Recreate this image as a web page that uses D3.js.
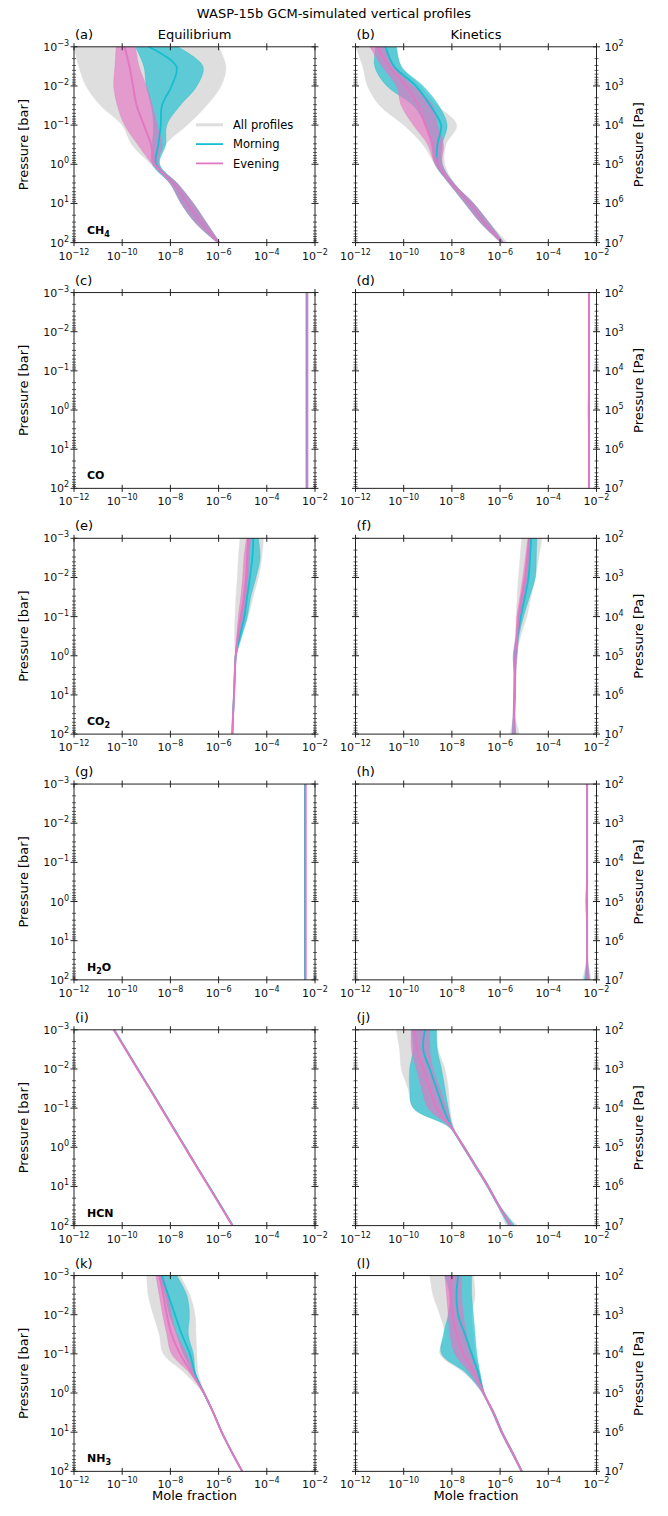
<!DOCTYPE html>
<html>
<head>
<meta charset="utf-8">
<script src="https://cdn.jsdelivr.net/npm/d3@7"></script>
<style>
  body { margin: 0; background: #fff; }
  svg { font-family: "DejaVu Sans", sans-serif; }
</style>
</head>
<body>
<svg id="fig" width="668" height="1516"></svg>
<script>
(function () {

  // log10(P / bar) of the sampled levels
  const logP = [-3, -2.5, -2, -1.5, -1, -0.5, 0, 0.5, 1, 1.5, 2];

  // every profile below is log10(mole fraction), one value per level of logP
  const ch4Eq = {
    allLo:   [-12, -11.8, -11.5, -10.9, -10.0, -9.6, -8.8, -8.02, -7.57, -6.97, -6.07],
    allHi:   [-6.0, -5.7, -5.9, -6.5, -7.3, -8.2, -8.45, -7.68, -7.03, -6.48, -5.95],
    mornLo:  [-9.45, -9.1, -9.0, -8.8, -8.7, -8.75, -8.75, -8.0, -7.55, -6.95, -6.05],
    mornHi:  [-7.7, -6.65, -6.9, -7.6, -8.15, -8.2, -8.45, -7.7, -7.05, -6.5, -5.95],
    mornMid: [-8.9, -7.75, -7.95, -8.35, -8.4, -8.5, -8.6, -7.85, -7.3, -6.7, -6.0],
    eveLo:   [-10.25, -10.3, -10.35, -10.2, -9.9, -9.35, -8.75, -8.0, -7.55, -6.95, -6.05],
    eveHi:   [-9.45, -9.3, -9.0, -8.75, -8.55, -8.35, -8.5, -7.7, -7.05, -6.5, -5.95],
    eveMid:  [-9.9, -9.7, -9.55, -9.4, -9.1, -8.8, -8.65, -7.85, -7.3, -6.7, -6.0]
  };
  const ch4Kin = {
    allLo:   [-12, -11.7, -11.5, -11.0, -10.0, -9.2, -8.7, -8.12, -7.47, -6.82, -6.0],
    allHi:   [-10.3, -10.1, -9.3, -8.6, -7.8, -8.25, -8.3, -7.88, -7.08, -6.43, -5.7],
    mornLo:  [-11.15, -11.2, -10.7, -9.6, -9.1, -8.85, -8.7, -8.1, -7.45, -6.8, -5.95],
    mornHi:  [-10.3, -10.1, -9.2, -8.55, -8.2, -8.4, -8.4, -7.9, -7.1, -6.45, -5.85],
    mornMid: [-10.75, -10.4, -9.5, -8.9, -8.45, -8.6, -8.6, -8.0, -7.25, -6.65, -5.9],
    eveLo:   [-11.4, -10.9, -10.3, -10.1, -9.6, -9.0, -8.7, -8.1, -7.45, -6.8, -5.95],
    eveHi:   [-10.8, -10.4, -9.6, -8.8, -8.6, -8.35, -8.4, -7.9, -7.1, -6.45, -5.85],
    eveMid:  [-11.1, -10.6, -9.9, -9.4, -9.1, -8.8, -8.6, -8.0, -7.25, -6.65, -5.9]
  };
  const coEq = {
    allLo:   [-2.36, -2.36, -2.36, -2.36, -2.36, -2.36, -2.36, -2.36, -2.36, -2.36, -2.36],
    allHi:   [-2.30, -2.30, -2.30, -2.30, -2.30, -2.30, -2.30, -2.30, -2.30, -2.30, -2.30],
    mornLo:  [-2.36, -2.36, -2.36, -2.36, -2.36, -2.36, -2.36, -2.36, -2.36, -2.36, -2.36],
    mornHi:  [-2.34, -2.34, -2.34, -2.34, -2.34, -2.34, -2.34, -2.34, -2.34, -2.34, -2.34],
    mornMid: [-2.35, -2.35, -2.35, -2.35, -2.35, -2.35, -2.35, -2.35, -2.35, -2.35, -2.35],
    eveLo:   [-2.33, -2.33, -2.33, -2.33, -2.33, -2.33, -2.33, -2.33, -2.33, -2.33, -2.33],
    eveHi:   [-2.31, -2.31, -2.31, -2.31, -2.31, -2.31, -2.31, -2.31, -2.31, -2.31, -2.31],
    eveMid:  [-2.32, -2.32, -2.32, -2.32, -2.32, -2.32, -2.32, -2.32, -2.32, -2.32, -2.32]
  };
  const coKin = {
    allLo:   [-2.33, -2.33, -2.33, -2.33, -2.33, -2.34, -2.38, -2.34, -2.33, -2.33, -2.34],
    allHi:   [-2.29, -2.29, -2.29, -2.29, -2.29, -2.29, -2.29, -2.29, -2.29, -2.29, -2.29],
    mornLo:  [-2.32, -2.32, -2.32, -2.32, -2.32, -2.32, -2.33, -2.32, -2.32, -2.32, -2.32],
    mornHi:  [-2.30, -2.30, -2.30, -2.30, -2.30, -2.30, -2.30, -2.30, -2.30, -2.30, -2.30],
    mornMid: [-2.31, -2.31, -2.31, -2.31, -2.31, -2.31, -2.31, -2.31, -2.31, -2.31, -2.31],
    eveLo:   [-2.32, -2.32, -2.32, -2.32, -2.32, -2.32, -2.33, -2.32, -2.32, -2.32, -2.32],
    eveHi:   [-2.30, -2.30, -2.30, -2.30, -2.30, -2.30, -2.30, -2.30, -2.30, -2.30, -2.30],
    eveMid:  [-2.31, -2.31, -2.31, -2.31, -2.31, -2.31, -2.31, -2.31, -2.31, -2.31, -2.31]
  };
  const co2Eq = {
    allLo:   [-5.11, -5.18, -5.22, -5.28, -5.32, -5.34, -5.32, -5.35, -5.38, -5.41, -5.45],
    allHi:   [-4.14, -4.21, -4.35, -4.57, -4.77, -5.04, -5.26, -5.31, -5.34, -5.37, -5.41],
    mornLo:  [-4.77, -4.81, -4.86, -4.97, -5.08, -5.2, -5.3, -5.34, -5.37, -5.41, -5.44],
    mornHi:  [-4.35, -4.28, -4.45, -4.67, -4.81, -5.04, -5.27, -5.32, -5.35, -5.39, -5.42],
    mornMid: [-4.56, -4.6, -4.7, -4.82, -4.93, -5.12, -5.29, -5.33, -5.36, -5.4, -5.43],
    eveLo:   [-4.84, -4.95, -5.0, -5.08, -5.18, -5.25, -5.31, -5.34, -5.37, -5.41, -5.44],
    eveHi:   [-4.67, -4.72, -4.77, -4.86, -4.97, -5.14, -5.27, -5.32, -5.35, -5.39, -5.42],
    eveMid:  [-4.77, -4.82, -4.86, -4.95, -5.08, -5.2, -5.29, -5.33, -5.36, -5.4, -5.43]
  };
  const co2Kin = {
    allLo:   [-5.1, -5.17, -5.24, -5.29, -5.33, -5.36, -5.45, -5.42, -5.43, -5.45, -5.58],
    allHi:   [-4.26, -4.4, -4.54, -4.72, -4.89, -5.15, -5.3, -5.33, -5.36, -5.38, -5.2],
    mornLo:  [-4.75, -4.86, -4.96, -5.13, -5.24, -5.32, -5.45, -5.42, -5.43, -5.46, -5.5],
    mornHi:  [-4.47, -4.5, -4.54, -4.78, -5.03, -5.22, -5.3, -5.36, -5.37, -5.39, -5.35],
    mornMid: [-4.71, -4.76, -4.82, -4.97, -5.14, -5.28, -5.37, -5.39, -5.4, -5.42, -5.44],
    eveLo:   [-4.85, -4.95, -5.06, -5.18, -5.31, -5.35, -5.45, -5.42, -5.43, -5.46, -5.5],
    eveHi:   [-4.72, -4.79, -4.86, -5.0, -5.14, -5.25, -5.3, -5.36, -5.37, -5.39, -5.35],
    eveMid:  [-4.79, -4.87, -4.96, -5.1, -5.22, -5.3, -5.37, -5.39, -5.4, -5.42, -5.44]
  };
  const h2oEq = {
    allLo:   [-2.43, -2.43, -2.43, -2.43, -2.43, -2.43, -2.43, -2.43, -2.43, -2.43, -2.43],
    allHi:   [-2.37, -2.37, -2.37, -2.37, -2.37, -2.37, -2.37, -2.37, -2.37, -2.37, -2.37],
    mornLo:  [-2.43, -2.43, -2.43, -2.43, -2.43, -2.43, -2.43, -2.43, -2.43, -2.43, -2.43],
    mornHi:  [-2.41, -2.41, -2.41, -2.41, -2.41, -2.41, -2.41, -2.41, -2.41, -2.41, -2.41],
    mornMid: [-2.42, -2.42, -2.42, -2.42, -2.42, -2.42, -2.42, -2.42, -2.42, -2.42, -2.42],
    eveLo:   [-2.40, -2.40, -2.40, -2.40, -2.40, -2.40, -2.40, -2.40, -2.40, -2.40, -2.40],
    eveHi:   [-2.38, -2.38, -2.38, -2.38, -2.38, -2.38, -2.38, -2.38, -2.38, -2.38, -2.38],
    eveMid:  [-2.39, -2.39, -2.39, -2.39, -2.39, -2.39, -2.39, -2.39, -2.39, -2.39, -2.39]
  };
  const h2oKin = {
    allLo:   [-2.41, -2.41, -2.41, -2.41, -2.41, -2.42, -2.46, -2.42, -2.41, -2.42, -2.58],
    allHi:   [-2.37, -2.37, -2.37, -2.37, -2.37, -2.37, -2.37, -2.37, -2.37, -2.36, -2.22],
    mornLo:  [-2.40, -2.40, -2.40, -2.40, -2.40, -2.41, -2.44, -2.41, -2.40, -2.41, -2.50],
    mornHi:  [-2.38, -2.38, -2.38, -2.38, -2.38, -2.38, -2.38, -2.38, -2.38, -2.37, -2.28],
    mornMid: [-2.39, -2.39, -2.39, -2.39, -2.39, -2.39, -2.40, -2.39, -2.39, -2.39, -2.40],
    eveLo:   [-2.40, -2.40, -2.40, -2.40, -2.40, -2.41, -2.43, -2.41, -2.40, -2.41, -2.46],
    eveHi:   [-2.38, -2.38, -2.38, -2.38, -2.38, -2.38, -2.38, -2.38, -2.38, -2.37, -2.30],
    eveMid:  [-2.39, -2.39, -2.39, -2.39, -2.39, -2.39, -2.40, -2.39, -2.39, -2.39, -2.38]
  };
  const hcnEq = {
    allLo:   [-10.37, -9.88, -9.39, -8.89, -8.40, -7.91, -7.42, -6.93, -6.43, -5.94, -5.45],
    allHi:   [-10.31, -9.82, -9.33, -8.83, -8.34, -7.85, -7.36, -6.87, -6.37, -5.88, -5.39],
    mornLo:  [-10.35, -9.86, -9.37, -8.87, -8.38, -7.89, -7.40, -6.91, -6.41, -5.92, -5.43],
    mornHi:  [-10.32, -9.83, -9.34, -8.84, -8.35, -7.86, -7.37, -6.88, -6.38, -5.89, -5.40],
    mornMid: [-10.33, -9.84, -9.35, -8.85, -8.36, -7.87, -7.38, -6.89, -6.39, -5.90, -5.41],
    eveLo:   [-10.36, -9.87, -9.38, -8.88, -8.39, -7.90, -7.41, -6.92, -6.42, -5.93, -5.44],
    eveHi:   [-10.34, -9.85, -9.36, -8.86, -8.37, -7.88, -7.39, -6.90, -6.40, -5.91, -5.42],
    eveMid:  [-10.35, -9.86, -9.37, -8.87, -8.38, -7.89, -7.40, -6.91, -6.41, -5.92, -5.43]
  };
  const hcnKin = {
    allLo:   [-10.31, -10.17, -10.1, -9.82, -9.6, -8.1, -7.55, -7.05, -6.55, -6.1, -5.75],
    allHi:   [-8.64, -8.57, -8.29, -8.15, -8.08, -7.92, -7.45, -6.95, -6.45, -6.0, -5.3],
    mornLo:  [-9.68, -9.61, -9.75, -9.75, -9.6, -8.08, -7.55, -7.05, -6.55, -6.1, -5.65],
    mornHi:  [-8.64, -8.61, -8.43, -8.29, -8.15, -7.95, -7.45, -6.95, -6.45, -6.0, -5.4],
    mornMid: [-9.12, -9.19, -8.92, -8.64, -8.36, -8.01, -7.5, -7.0, -6.5, -6.05, -5.55],
    eveLo:   [-9.68, -9.68, -9.47, -9.26, -8.99, -8.05, -7.52, -7.02, -6.52, -6.07, -5.6],
    eveHi:   [-8.92, -8.92, -8.78, -8.5, -8.22, -7.97, -7.48, -6.98, -6.48, -6.03, -5.5],
    eveMid:  [-9.54, -9.44, -9.19, -8.92, -8.64, -8.01, -7.5, -7.0, -6.5, -6.05, -5.55]
  };
  const nh3Eq = {
    allLo:   [-8.98, -8.92, -8.71, -8.46, -8.29, -7.39, -6.65, -6.25, -5.9, -5.48, -5.04],
    allHi:   [-7.6, -7.19, -6.98, -6.94, -6.91, -6.84, -6.57, -6.19, -5.84, -5.44, -5.0],
    mornLo:  [-8.46, -8.22, -8.04, -7.74, -7.46, -7.05, -6.64, -6.24, -5.89, -5.47, -5.03],
    mornHi:  [-7.74, -7.32, -7.21, -7.26, -7.05, -6.95, -6.58, -6.2, -5.85, -5.45, -5.01],
    mornMid: [-8.36, -8.09, -7.81, -7.53, -7.19, -6.98, -6.61, -6.22, -5.87, -5.46, -5.02],
    eveLo:   [-8.6, -8.46, -8.32, -8.15, -7.95, -7.19, -6.64, -6.24, -5.89, -5.47, -5.03],
    eveHi:   [-8.29, -8.09, -7.95, -7.74, -7.32, -6.98, -6.58, -6.2, -5.85, -5.45, -5.01],
    eveMid:  [-8.46, -8.29, -8.15, -7.95, -7.6, -7.1, -6.61, -6.22, -5.87, -5.46, -5.02]
  };
  const nh3Kin = {
    allLo:   [-8.92, -8.78, -8.5, -8.29, -8.5, -7.46, -6.74, -6.33, -5.98, -5.56, -5.15],
    allHi:   [-7.11, -7.04, -7.18, -7.11, -7.04, -6.83, -6.64, -6.23, -5.88, -5.46, -5.05],
    mornLo:  [-8.29, -8.08, -8.15, -8.35, -8.43, -7.39, -6.73, -6.32, -5.97, -5.55, -5.12],
    mornHi:  [-7.18, -7.18, -7.11, -7.04, -6.97, -6.83, -6.65, -6.24, -5.89, -5.47, -5.08],
    mornMid: [-7.74, -7.81, -7.74, -7.46, -7.18, -6.9, -6.69, -6.28, -5.93, -5.51, -5.1],
    eveLo:   [-8.29, -8.22, -8.15, -8.08, -7.88, -7.25, -6.72, -6.31, -5.96, -5.54, -5.11],
    eveHi:   [-7.6, -7.6, -7.53, -7.39, -7.18, -6.9, -6.66, -6.25, -5.9, -5.48, -5.09],
    eveMid:  [-8.01, -8.06, -7.97, -7.81, -7.53, -7.04, -6.69, -6.28, -5.93, -5.51, -5.1]
  };

  const species = [["CH", "4"], ["CO", ""], ["CO", "2"], ["H", "2", "O"], ["HCN", ""], ["NH", "3"]];
  const profiles = [
    [ch4Eq, ch4Kin], [coEq, coKin], [co2Eq, co2Kin],
    [h2oEq, h2oKin], [hcnEq, hcnKin], [nh3Eq, nh3Kin]
  ];
  const columnTitles = ["Equilibrium", "Kinetics"];
  const letters = "abcdefghijkl".split("");
  const xTickExp = [-12, -10, -8, -6, -4, -2];
  const barTickExp = [-3, -2, -1, 0, 1, 2];
  const paTickExp = [2, 3, 4, 5, 6, 7];
  const legendItems = ["All profiles", "Morning", "Evening"];

  const colors = { all: "#dedede", morn: "#17becf", eve: "#e377c2" };

  // layout
  const colX = [74, 355.5], plotW = 241;
  const rowY0 = 46.8, rowStep = 245.75, plotH = 195.8;
  const ink = "#222";

  const svg = d3.select("#fig");

  svg.append("text")
    .attr("x", 334).attr("y", 18)
    .attr("text-anchor", "middle").attr("font-size", 13)
    .text("WASP-15b GCM-simulated vertical profiles");

  function powLabel(sel, e) {
    sel.append("tspan").text("10");
    sel.append("tspan").attr("dy", -5).attr("font-size", 8)
      .text(e < 0 ? "\u2212" + (-e) : String(e));
  }

  function drawPanel(d, row, col, idx) {
    const x0 = colX[col], y0 = rowY0 + row * rowStep;
    const x = d3.scaleLog().domain([1e-12, 1e-2]).range([x0, x0 + plotW]);
    const y = d3.scaleLog().domain([1e-3, 1e2]).range([y0, y0 + plotH]);
    const yPa = d3.scaleLog().domain([1e2, 1e7]).range([y0, y0 + plotH]);

    const g = svg.append("g");
    const clipId = "clip-" + letters[idx];
    g.append("clipPath").attr("id", clipId)
      .append("rect").attr("x", x0).attr("y", y0).attr("width", plotW).attr("height", plotH);

    const plot = g.append("g").attr("clip-path", "url(#" + clipId + ")");

    const band = (lo, hi) => d3.area()
      .curve(d3.curveCatmullRom)
      .y((p, i) => y(Math.pow(10, logP[i])))
      .x0((p, i) => x(Math.pow(10, lo[i])))
      .x1((p, i) => x(Math.pow(10, hi[i])));
    const line = v => d3.line()
      .curve(d3.curveCatmullRom)
      .y((p, i) => y(Math.pow(10, logP[i])))
      .x((p, i) => x(Math.pow(10, v[i])));

    plot.append("path").datum(logP).attr("d", band(d.allLo, d.allHi))
      .attr("fill", colors.all).attr("stroke", colors.all).attr("stroke-width", 0.5);
    plot.append("path").datum(logP).attr("d", band(d.mornLo, d.mornHi))
      .attr("fill", colors.morn).attr("fill-opacity", 0.65)
      .attr("stroke", colors.morn).attr("stroke-opacity", 0.65).attr("stroke-width", 0.5);
    plot.append("path").datum(logP).attr("d", band(d.eveLo, d.eveHi))
      .attr("fill", colors.eve).attr("fill-opacity", 0.65)
      .attr("stroke", colors.eve).attr("stroke-opacity", 0.65).attr("stroke-width", 0.5);
    plot.append("path").datum(logP).attr("d", line(d.mornMid))
      .attr("fill", "none").attr("stroke", colors.morn).attr("stroke-width", 1.8);
    plot.append("path").datum(logP).attr("d", line(d.eveMid))
      .attr("fill", "none").attr("stroke", colors.eve).attr("stroke-width", 2);

    // frame
    g.append("rect").attr("x", x0).attr("y", y0).attr("width", plotW).attr("height", plotH)
      .attr("fill", "none").attr("stroke", ink).attr("stroke-width", 1);

    // y ticks (major + log minor) on both spines, crossing the spine
    const yMajor = barTickExp.map(e => Math.pow(10, e));
    const yMinor = [];
    barTickExp.slice(0, -1).forEach(e => {
      for (let m = 2; m <= 9; m++) yMinor.push(m * Math.pow(10, e));
    });
    [x0, x0 + plotW].forEach(sx => {
      g.selectAll(null).data(yMajor).enter().append("line")
        .attr("x1", sx - 3.5).attr("x2", sx + 3.5)
        .attr("y1", v => y(v)).attr("y2", v => y(v))
        .attr("stroke", ink).attr("stroke-width", 1);
      g.selectAll(null).data(yMinor).enter().append("line")
        .attr("x1", sx - 2).attr("x2", sx + 2)
        .attr("y1", v => y(v)).attr("y2", v => y(v))
        .attr("stroke", ink).attr("stroke-width", 0.7);
    });
    // x ticks top and bottom
    const xMajor = xTickExp.map(e => Math.pow(10, e));
    [y0, y0 + plotH].forEach(sy => {
      g.selectAll(null).data(xMajor).enter().append("line")
        .attr("x1", v => x(v)).attr("x2", v => x(v))
        .attr("y1", sy - 3.5).attr("y2", sy + 3.5)
        .attr("stroke", ink).attr("stroke-width", 1);
    });

    // x tick labels
    xTickExp.forEach(e => {
      const t = g.append("text")
        .attr("x", x(Math.pow(10, e))).attr("y", y0 + plotH + 17)
        .attr("text-anchor", "middle").attr("font-size", 11).attr("fill", "#111");
      powLabel(t, e);
    });

    // y tick labels
    if (col === 0) {
      barTickExp.forEach(e => {
        const t = g.append("text")
          .attr("x", x0 - 5).attr("y", y(Math.pow(10, e)) + 4)
          .attr("text-anchor", "end").attr("font-size", 11).attr("fill", "#111");
        powLabel(t, e);
      });
      g.append("text")
        .attr("transform", "translate(28," + (y0 + plotH / 2) + ") rotate(-90)")
        .attr("text-anchor", "middle").attr("font-size", 13)
        .text("Pressure [bar]");
      // species label
      const sp = species[row];
      const st = g.append("text")
        .attr("x", x0 + 13).attr("y", y0 + plotH - 9)
        .attr("font-size", 11).attr("font-weight", "bold");
      st.append("tspan").text(sp[0]);
      if (sp[1]) st.append("tspan").attr("dy", 3).attr("font-size", 8).text(sp[1]);
      if (sp[2]) st.append("tspan").attr("dy", -3).text(sp[2]);
    } else {
      paTickExp.forEach(e => {
        const t = g.append("text")
          .attr("x", x0 + plotW + 8).attr("y", yPa(Math.pow(10, e)) + 4)
          .attr("text-anchor", "start").attr("font-size", 11).attr("fill", "#111");
        powLabel(t, e);
      });
      g.append("text")
        .attr("transform", "translate(643," + (y0 + plotH / 2) + ") rotate(-90)")
        .attr("text-anchor", "middle").attr("font-size", 13)
        .text("Pressure [Pa]");
    }

    // panel letter
    g.append("text")
      .attr("x", x0 + 1).attr("y", y0 - 8)
      .attr("font-size", 13).text("(" + letters[idx] + ")");

    if (row === 0) {
      g.append("text")
        .attr("x", x0 + plotW / 2).attr("y", y0 - 8)
        .attr("text-anchor", "middle").attr("font-size", 13)
        .text(columnTitles[col]);
    }
    if (row === profiles.length - 1) {
      g.append("text")
        .attr("x", x0 + plotW / 2).attr("y", y0 + plotH + 29)
        .attr("text-anchor", "middle").attr("font-size", 13)
        .text("Mole fraction");
    }

    // legend in the first panel
    if (idx === 0) {
      const legColors = [colors.all, colors.morn, colors.eve];
      const legWidths = [3, 1.8, 1.8];
      legendItems.forEach((name, k) => {
        const ly = y0 + 78 + k * 19.3;
        g.append("line")
          .attr("x1", x0 + 122).attr("x2", x0 + 149)
          .attr("y1", ly).attr("y2", ly)
          .attr("stroke", legColors[k]).attr("stroke-width", legWidths[k]);
        g.append("text")
          .attr("x", x0 + 159).attr("y", ly + 4.3)
          .attr("font-size", 11.5).text(name);
      });
    }
  }

  profiles.forEach((pair, row) => {
    pair.forEach((d, col) => drawPanel(d, row, col, row * 2 + col));
  });

}());
</script>
</body>
</html>
